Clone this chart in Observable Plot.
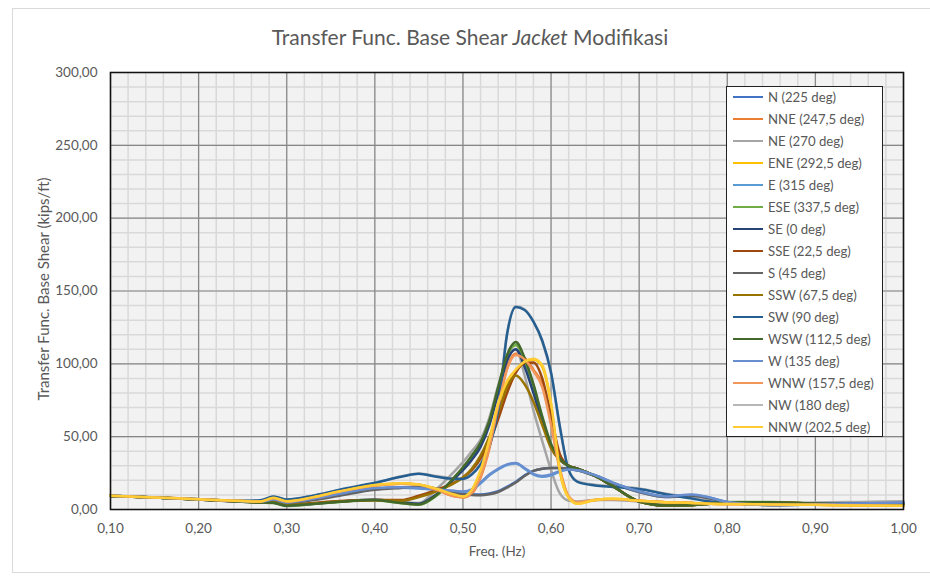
<!DOCTYPE html>
<html><head><meta charset="utf-8">
<script src="https://cdn.jsdelivr.net/npm/d3@7"></script>
<script src="https://cdn.jsdelivr.net/npm/@observablehq/plot@0.6"></script>
<style>
body{margin:0;background:#fff;font-family:Lato,"Open Sans",sans-serif;}
#wrap{position:relative;width:930px;height:580px;overflow:hidden;background:#fff}
#border{position:absolute;left:12px;top:8px;width:930px;height:565px;border:1px solid #d9d9d9;box-sizing:border-box}
#title{position:absolute;top:24px;left:0;width:940px;text-align:center;font-size:21px;color:#595959}
#ylab{position:absolute;left:43px;top:289px;transform:translate(-50%,-50%) rotate(-90deg);white-space:nowrap;font-size:15px;color:#595959}
#xlab{position:absolute;left:497px;top:551px;transform:translate(-50%,-50%);white-space:nowrap;font-size:13.5px;color:#595959}
#legend{position:absolute;left:726px;top:86px;width:157px;height:351px;background:#fff;border:1.5px solid #222;box-sizing:border-box}
.li{position:absolute;left:6px;height:20px;display:flex;align-items:center;font-size:13.2px;color:#595959;white-space:nowrap}
.li span.sw{display:inline-block;width:30px;height:2.5px;margin-right:5px}
#chart{position:absolute;left:0;top:0}
</style></head>
<body>
<div id="wrap">
  <div id="border"></div>
  <div id="chart"></div>
  <div id="title">Transfer Func. Base Shear <i>Jacket</i> Modifikasi</div>
  <div id="ylab">Transfer Func. Base Shear (kips/ft)</div>
  <div id="xlab">Freq. (Hz)</div>
  <div id="legend"></div>
</div>
<script>
const freq = [0.10,0.15,0.20,0.25,0.27,0.285,0.30,0.33,0.36,0.40,0.43,0.45,0.47,0.49,0.50,0.51,0.52,0.53,0.54,0.55,0.56,0.57,0.58,0.59,0.60,0.61,0.62,0.63,0.65,0.67,0.70,0.73,0.76,0.78,0.80,0.85,0.90,0.95,1.00];

const seriesNames = ["N (225 deg)","NNE (247,5 deg)","NE (270 deg)","ENE (292,5 deg)","E (315 deg)","ESE (337,5 deg)","SE (0 deg)","SSE (22,5 deg)","S (45 deg)","SSW (67,5 deg)","SW (90 deg)","WSW (112,5 deg)","W (135 deg)","WNW (157,5 deg)","NW (180 deg)","NNW (202,5 deg)"];
const seriesColors = ["#4472c4","#ed7d31","#a5a5a5","#ffc000","#5b9bd5","#70ad47","#264478","#9e480e","#636363","#997300","#255e91","#43682b","#698ed0","#f1975a","#b7b7b7","#ffcd33"];

const N   = [9.4,8.3,7.0,5.6,5.2,6.5,4.6,7.0,10.2,14.0,15.2,15.5,14.5,12,11,10.5,10.3,11,12.5,15.5,19,23.5,26.5,28,28.5,28.5,28,27,23.5,18.5,12.5,9,9.8,8,5.2,3.2,3.6,4.2,4.8];
const NNE = [9.5,8.3,7.0,5.8,5.5,7.8,5.5,8.3,12.3,16.5,17.8,17,13.5,9,8.3,11,22,42,70,97,107,104,96,86,60,28,9,5,6.5,7,6,5,4.5,4,3.8,3.5,3.2,2.9,2.6];
const NE  = [9.4,8.3,7.0,5.4,5.0,4.4,2.3,3.9,5.5,6.7,4.8,4.5,14,26,32.5,40,48,63,85,103,110,92,68,47,27,11,6,5.5,6.5,6.5,5.5,5,4.5,4.2,4,4.2,4.5,5,5.5];
const ENE = [9.5,8.3,7.0,5.8,5.5,8.0,5.7,8.5,12.5,16.5,17.6,17,14,10,8.5,13,26,47,72,87,95,101,103,98,72,26,8,4,6.5,7.3,6,5,4.5,4,3.8,3.5,3.2,2.8,2.5];
const E   = [9.4,8.3,7.0,5.6,5.2,6.6,4.6,7.2,10.5,14.5,15,14.5,13.5,12.5,12,13.5,18,23.5,27.5,30.5,31.5,28,24,22.5,23.5,26,27.5,27,23,18,12,8.5,10,8,5,3,3.5,4,4.5];
const ESE = [9.3,8.2,6.9,5.3,4.8,4.5,2.5,3.7,5.2,6.3,4.3,3.2,9.5,21,28,36,45,60,83,105,113,102,85,63,44,34,30,28,23,16,5.5,2.7,3,4,5.2,5.2,4.2,3.6,3.1];
const SE  = [9.3,8.2,6.9,5.3,4.9,4.7,2.8,4.0,5.5,6.7,5,4,10.5,21,27,34,43,58,80,102,110,98,80,60,43,34,30,28,23,16,5.5,3,3.2,4,4.8,4.8,4,3.5,3];
const SSE = [9.3,8.2,6.9,5.4,5.0,5.2,3.2,4.5,5.8,6.5,6.5,9.5,13.5,18.5,22,27,35,46,62,80,94,100.5,101,90,64,38,30,28,23,16,5.5,2.7,3,4,5,5,4,3.5,3];
const S   = [9.3,8.2,6.9,5.5,5.0,6.0,4.3,6.5,9.5,13.5,14.8,15.5,14.5,11.5,10.7,10,9.8,10.5,12,15,18.5,23,26.5,28,28.5,28.5,28,27,23,18,12,8.5,9.5,7.5,5,3,3.5,4,4.5];
const SSW = [9.3,8.2,6.9,5.4,5.0,5.0,3.0,4.2,5.5,6.3,6.0,8.5,12.5,18,22,28,37,50,66,84,92,86,74,58,42,34,30,28,23,16,5.5,2.7,3,4,5,5,4,3.5,3];
const SW  = [9.5,8.3,7.0,6.0,6.3,9.0,6.8,9.5,13.5,18.3,22.5,24.5,22.5,21,21,24,31,43,68,120,139,137,129,116,94,57,27,19,16.5,15.5,14,10.5,7.5,5.5,4.8,4.0,4.0,4.0,4.0];
const WSW = [9.3,8.2,6.9,5.3,4.8,4.6,2.6,3.8,5.3,6.5,4.5,3.5,10,22,29,37,46,61,84,106,115,104,86,64,45,35,30,28,23,16,5.5,2.7,3,4,5,5,4,3.5,3];
const W   = [9.4,8.3,7.0,5.6,5.3,6.8,4.8,7.4,10.8,14.8,15.3,14.8,13.8,12.8,12.3,13.8,18.5,24,28,31,32,28.5,24.5,23,24,26.5,27.5,27,23.5,18.5,12.5,9,10.3,8.2,5.2,3.2,3.6,4.2,4.8];
const WNW = [9.5,8.3,7.0,5.8,5.5,7.8,5.5,8.3,12.3,16.5,17.6,17,13.5,9.2,8.5,11.5,23,43,71,96,106,103,95,84,58,27,9,5,6.5,7,6,5,4.5,4,3.8,3.5,3.2,2.9,2.6];
const NW  = [9.6,8.4,7.1,6.0,6.2,8.8,6.7,9.4,13.3,18.0,22.8,24.8,23,21.5,21.5,24.5,31.5,44,70,121,139.5,137.5,129,115,93,56,27,19.5,17,16,14.5,11,8.5,6.5,5,4.5,4.8,5.2,5.6];
const NNW = [9.5,8.3,7.0,5.8,5.5,8.0,5.7,8.5,12.5,16.8,18,17.2,14.2,10.3,9,13.5,27,48,73,88,96,101.5,103.5,99,73,27,8,4,6.5,7.3,6,5,4.5,4,3.8,3.5,3.2,2.8,2.5];

const seriesValues = [N,NNE,NE,ENE,E,ESE,SE,SSE,S,SSW,SW,WSW,W,WNW,NW,NNW];
// drawing order (NW sits underneath SW, which it nearly duplicates)
const drawOrder = [14,0,1,2,3,4,5,6,7,8,9,10,11,12,13,15];

const xTicks = [0.1,0.2,0.3,0.4,0.5,0.6,0.7,0.8,0.9,1.0];
const xTickLabels = ["0,10","0,20","0,30","0,40","0,50","0,60","0,70","0,80","0,90","1,00"];
const yTicks = [0,50,100,150,200,250,300];
const yTickLabels = ["0,00","50,00","100,00","150,00","200,00","250,00","300,00"];

const xLab = new Map(xTicks.map((t,i)=>[t,xTickLabels[i]]));
const yLab = new Map(yTicks.map((t,i)=>[t,yTickLabels[i]]));
const xMinor = d3.range(0,46).map(i => 0.1 + i*0.02).filter(v => v <= 1.0001);
const yMinor = d3.range(0,31).map(i => i*10);

const rows = [];
drawOrder.forEach(s => {
  freq.forEach((f, i) => rows.push({series: seriesNames[s], f, v: seriesValues[s][i]}));
});

const chart = Plot.plot({
  width: 930, height: 580,
  marginLeft: 110, marginRight: 27, marginTop: 72, marginBottom: 71,
  style: {fontFamily: "Lato, 'Open Sans', sans-serif", fontSize: "13.5px", color: "#595959", background: "transparent"},
  x: {domain: [0.1, 1.0], ticks: xTicks, tickFormat: d => xLab.get(d) ?? "", tickSize: 0, tickPadding: 14, label: null},
  y: {domain: [0, 300], ticks: yTicks, tickFormat: d => yLab.get(d) ?? "", tickSize: 0, tickPadding: 13, label: null},
  color: {domain: seriesNames, range: seriesColors},
  marks: [
    Plot.frame({fill: "#f2f2f2"}),
    Plot.ruleX(xMinor, {stroke: "#d9d9d9", strokeWidth: 1.5}),
    Plot.ruleY(yMinor, {stroke: "#d9d9d9", strokeWidth: 1.5}),
    Plot.ruleX(xTicks, {stroke: "#878787", strokeWidth: 1.2}),
    Plot.ruleY(yTicks, {stroke: "#878787", strokeWidth: 1.2}),
    Plot.line(rows, {x: "f", y: "v", z: "series", stroke: "series", strokeWidth: 2.5, curve: "monotone-x"}),
    Plot.frame({stroke: "#111", strokeWidth: 1.5})
  ]
});
document.getElementById("chart").appendChild(chart);

const lg = document.getElementById("legend");
seriesNames.forEach((name, i) => {
  const d = document.createElement("div");
  d.className = "li";
  d.style.top = (i * 22 + 0) + "px";
  const sw = document.createElement("span");
  sw.className = "sw";
  sw.style.background = seriesColors[i];
  d.appendChild(sw);
  d.appendChild(document.createTextNode(name));
  lg.appendChild(d);
});
</script>
</body></html>
